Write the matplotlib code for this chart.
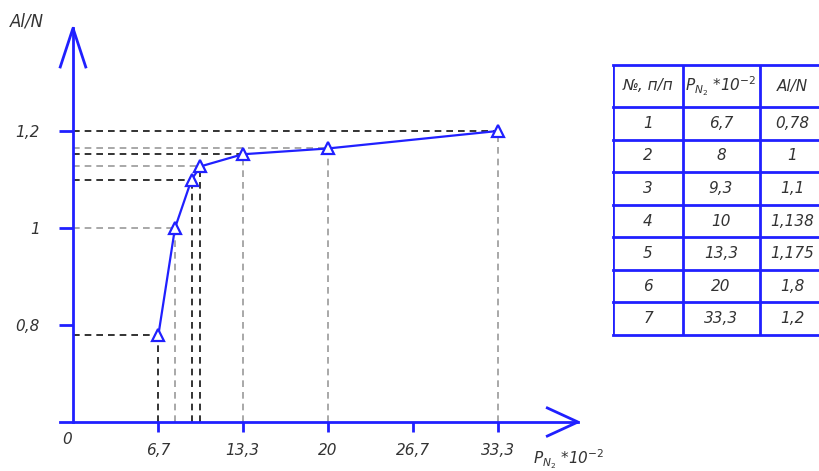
import numpy as np
import matplotlib.pyplot as plt

# values
p_n2 = [6.7, 8, 9.3, 10, 13.3, 20, 33.3]
al_n = [0.78, 1.0, 1.1, 1.127, 1.152, 1.164, 1.2]
guide_dark_h = [True, False, True, False, True, False, True]
guide_dark_v = [True, False, True, True, False, False, False]

x_ticks = [6.7, 13.3, 20, 26.7, 33.3]
x_tick_labels = ['6,7', '13,3', '20', '26,7', '33,3']
y_ticks = [0.8, 1.0, 1.2]
y_tick_labels = ['0,8', '1', '1,2']

tbl_num = ['1', '2', '3', '4', '5', '6', '7']
tbl_p = ['6,7', '8', '9,3', '10', '13,3', '20', '33,3']
tbl_al = ['0,78', '1', '1,1', '1,138', '1,175', '1,8', '1,2']
tbl_head = ['№, п/п', r'$P_{N_2}$ *10$^{-2}$', 'Al/N']

blue = '#2020ff'
txt = '#333333'
font = dict(family=['Liberation Sans Narrow', 'DejaVu Sans'], style='italic', color=txt)

W, H = 820, 471
fig = plt.figure(figsize=(8.2, 4.71), dpi=100)

# main plot, placed so the scale matches the drawing
x0, x1 = -1, 40
y0, y1 = 0.6, 1.42
px_x, px_y = 12.75, 485
left_px = 73 + x0 * px_x
bottom_px = 471 - 422
ax = fig.add_axes([left_px / W, bottom_px / H, (x1 - x0) * px_x / W, (y1 - y0) * px_y / H])
ax.set_xlim(x0, x1)
ax.set_ylim(y0, y1)
for s in ['top', 'right']:
    ax.spines[s].set_visible(False)
ax.spines['left'].set_position(('data', 0))
ax.spines['bottom'].set_position(('data', y0))
ax.spines['left'].set_bounds(y0, 1.412)
ax.spines['bottom'].set_bounds(-1, 39.6)
for s in ['left', 'bottom']:
    ax.spines[s].set_color(blue)
    ax.spines[s].set_linewidth(2)
ax.set_facecolor('none')

ax.set_xticks(x_ticks)
ax.set_xticklabels(x_tick_labels, fontsize=11, **font)
ax.set_yticks(y_ticks)
ax.set_yticklabels(y_tick_labels, fontsize=11, **font)
ax.tick_params(axis='x', colors=blue, length=7, width=2, pad=8, labelcolor=txt)
ax.tick_params(axis='y', colors=blue, length=10, width=2, pad=14, labelcolor=txt)
ax.text(-0.5, 0.58, '0', ha='center', va='top', fontsize=11, **font)

# arrow heads
ax.plot([-1.0, 0, 1.0], [1.332, 1.412, 1.332], color=blue, lw=2, clip_on=False)
ax.plot([37.2, 39.6, 37.2], [0.629, 0.6, 0.571], color=blue, lw=2, clip_on=False)

# dashed guides
for x, y, dh, dv in zip(p_n2, al_n, guide_dark_h, guide_dark_v):
    ax.plot([0, x], [y, y], ls=(0, (4, 3)), lw=1.2, color='#111111' if dh else '#999999', zorder=1)
    ax.plot([x, x], [y0, y], ls=(0, (4, 3)), lw=1.2, color='#111111' if dv else '#999999', zorder=1)

ax.plot(p_n2, al_n, color=blue, lw=1.6, marker='^', ms=8, mfc='white', mec=blue, mew=1.6, zorder=3)

fig.text(10 / W, 1 - 22 / H, 'Al/N', fontsize=12, va='center', **font)
fig.text(533 / W, 1 - 459 / H, r'$P_{N_2}$ *10$^{-2}$', fontsize=11, va='center', **font)

# table
tx0, tx1, ty0, ty1 = 613, 822, 65, 335
tax = fig.add_axes([tx0 / W, 1 - ty1 / H, (tx1 - tx0) / W, (ty1 - ty0) / H])
tax.set_xlim(tx0, tx1)
tax.set_ylim(ty1, ty0)
tax.axis('off')
cols = [613, 683, 760]
centers = [648, 721, 792]
head_bottom = 107
row_h = (ty1 - head_bottom) / len(tbl_num)
lines = [ty0, head_bottom] + [head_bottom + row_h * (i + 1) for i in range(len(tbl_num))]
for yl in lines:
    tax.plot([tx0, tx1 + 10], [yl, yl], color=blue, lw=2, clip_on=False)
for xc in cols:
    tax.plot([xc, xc], [ty0, ty1], color=blue, lw=2)
for cx, h in zip(centers, tbl_head):
    tax.text(cx, (ty0 + head_bottom) / 2, h, ha='center', va='center', fontsize=11, **font)
for i, row in enumerate(zip(tbl_num, tbl_p, tbl_al)):
    yc = head_bottom + row_h * (i + 0.5)
    for cx, v in zip(centers, row):
        tax.text(cx, yc, v, ha='center', va='center', fontsize=11, **font)

fig.savefig('out.png', dpi=100)
